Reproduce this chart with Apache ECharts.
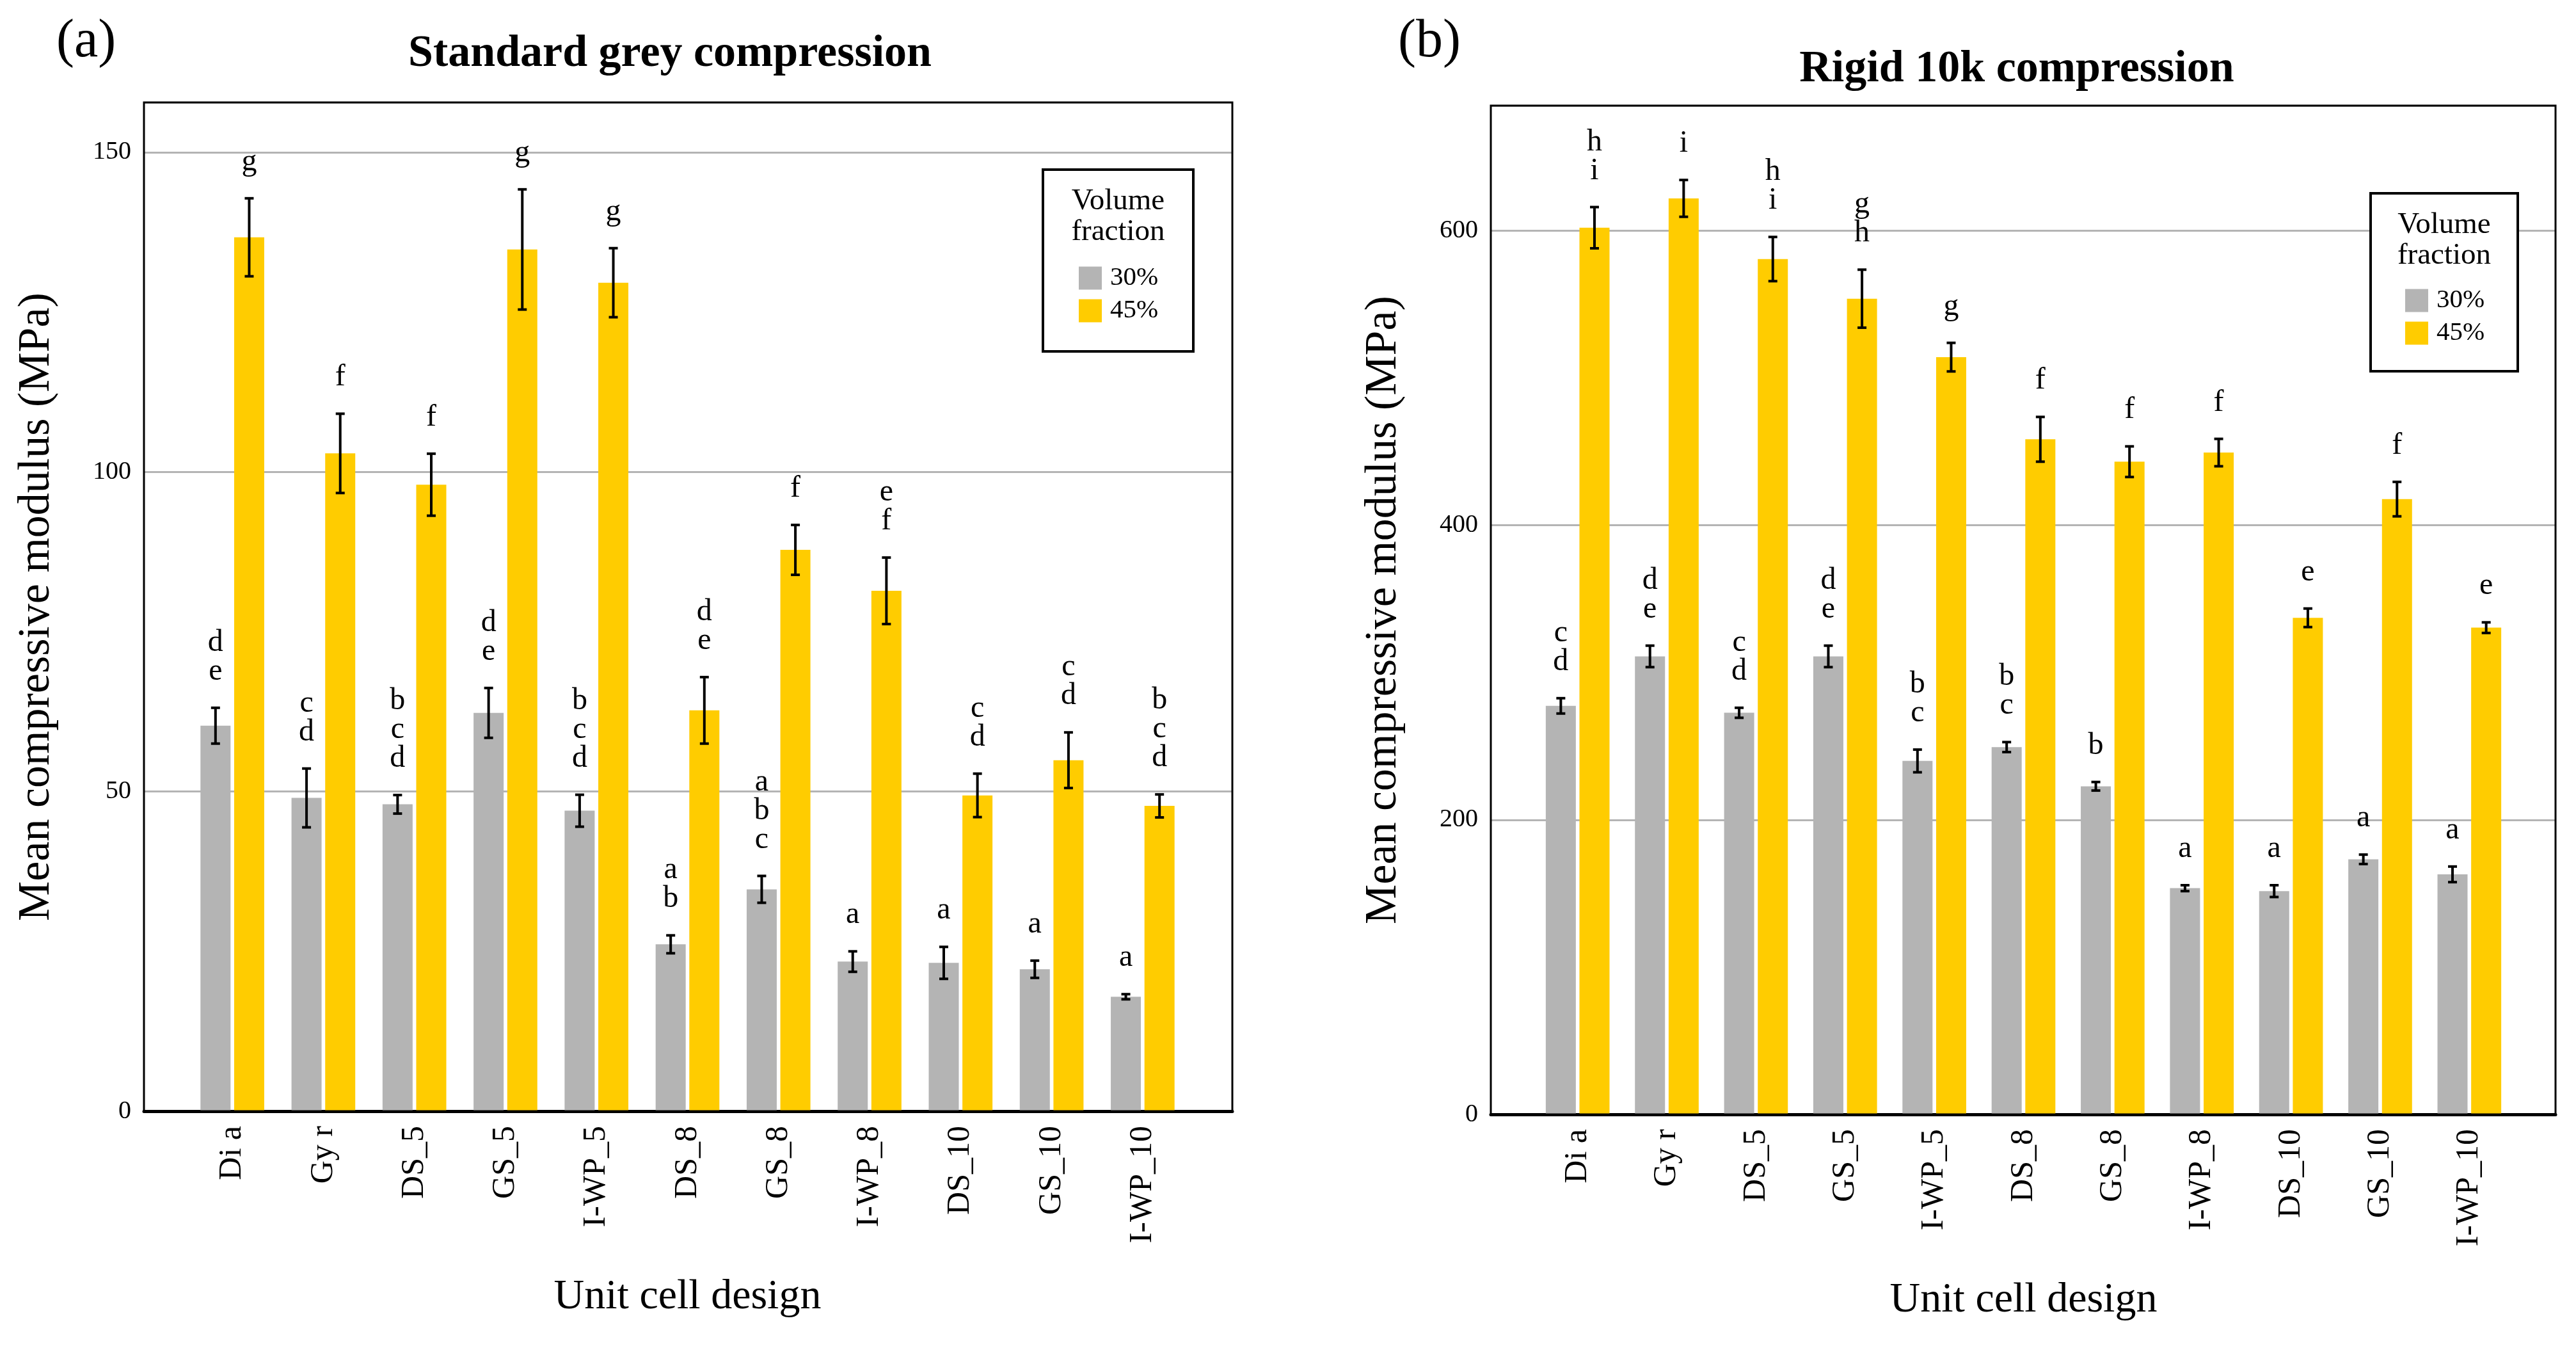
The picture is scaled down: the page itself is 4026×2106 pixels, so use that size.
<!DOCTYPE html>
<html>
<head>
<meta charset="utf-8">
<script src="https://cdn.jsdelivr.net/npm/echarts@6/dist/echarts.min.js"></script>
<style>
  html, body { margin: 0; padding: 0; background: #fff; }
  #chart { width: 4026px; height: 2106px; }
</style>
</head>
<body>
<div id="chart"></div>
<script>
// 数据
const categories = ['Di a', 'Gy r', 'DS_5', 'GS_5', 'I-WP_5', 'DS_8', 'GS_8', 'I-WP_8', 'DS_10', 'GS_10', 'I-WP_10'];
const seriesNames = ['30%', '45%'];

// (a) Standard grey
const greyA = [60.3, 49.0, 48.0, 62.3, 47.0, 26.1, 34.7, 23.4, 23.2, 22.2, 17.9];
const greyAErr = [2.8, 4.6, 1.45, 3.9, 2.5, 1.4, 2.1, 1.6, 2.5, 1.35, 0.4];
const yellowA = [136.7, 102.9, 98.0, 134.8, 129.6, 62.7, 87.8, 81.4, 49.4, 54.9, 47.75];
const yellowAErr = [6.1, 6.2, 4.85, 9.4, 5.4, 5.2, 3.9, 5.2, 3.4, 4.35, 1.8];
const greyALetters = ['d\ne', 'c\nd', 'b\nc\nd', 'd\ne', 'b\nc\nd', 'a\nb', 'a\nb\nc', 'a', 'a', 'a', 'a'];
const yellowALetters = ['g', 'f', 'f', 'g', 'g', 'd\ne', 'f', 'e\nf', 'c\nd', 'c\nd', 'b\nc\nd'];

// (b) Rigid 10k
const greyB = [277.4, 311.0, 272.7, 311.0, 240.0, 249.4, 222.8, 153.6, 151.6, 173.2, 163.0];
const greyBErr = [5.2, 7.3, 3.4, 7.3, 7.7, 3.4, 2.9, 2.0, 4.0, 3.2, 5.3];
const yellowB = [602.1, 622.0, 580.8, 553.9, 514.2, 458.4, 443.2, 449.4, 337.2, 417.8, 330.5];
const yellowBErr = [14.0, 12.5, 15.0, 19.7, 9.7, 15.2, 10.4, 9.3, 6.3, 11.7, 3.6];
const greyBLetters = ['c\nd', 'd\ne', 'c\nd', 'd\ne', 'b\nc', 'b\nc', 'b', 'a', 'a', 'a', 'a'];
const yellowBLetters = ['h\ni', 'i', 'h\ni', 'g\nh', 'g', 'f', 'f', 'f', 'e', 'f', 'e'];

const yTicksA = { max: 157.8, interval: 50 };
const yTicksB = { max: 685, interval: 200 };

const GREY = '#b4b4b4';
const YELLOW = '#ffcc00';
const FONT = 'Liberation Serif';

// 布局（像素）
const frameA = { left: 225, top: 160, width: 1701, height: 1576 };
const innerA = { left: 292, top: 160, width: 1565, height: 1576 };
const frameB = { left: 2330, top: 165, width: 1664, height: 1576 };
const innerB = { left: 2396, top: 165, width: 1533, height: 1576 };

const BAR_W = 47;
const BAR_GAP = 0.12;
const HALF = (BAR_W + BAR_W * BAR_GAP) / 2;

const chart = echarts.init(document.getElementById('chart'));

function outerX(grid) {
    return {
        type: 'value', gridIndex: grid, min: 0, max: 1,
        axisLine: { show: true, onZero: false, lineStyle: { color: '#000', width: 5 } },
        axisTick: { show: false }, axisLabel: { show: false }, splitLine: { show: false }
    };
}

function outerY(grid, ticks) {
    return {
        type: 'value', gridIndex: grid, min: 0, max: ticks.max, interval: ticks.interval,
        name: 'Mean compressive modulus (MPa)', nameLocation: 'middle', nameRotate: 90, nameGap: 132,
        nameTextStyle: { fontFamily: FONT, fontSize: 70, color: '#000' },
        axisLine: { show: false }, axisTick: { show: false },
        axisLabel: { fontFamily: FONT, fontSize: 40, color: '#000', margin: 20, showMaxLabel: false },
        splitLine: { show: true, lineStyle: { color: GREY, width: 3 } }
    };
}

function innerX(grid) {
    return {
        type: 'category', gridIndex: grid, data: categories,
        name: 'Unit cell design', nameLocation: 'middle', nameGap: 258,
        nameTextStyle: { fontFamily: FONT, fontSize: 66, color: '#000' },
        axisLine: { show: false }, axisTick: { show: false },
        axisLabel: { rotate: 90, interval: 0, fontFamily: FONT, fontSize: 50, color: '#000', margin: 23 }
    };
}

function innerY(grid, ticks) {
    return { type: 'value', gridIndex: grid, min: 0, max: ticks.max, interval: ticks.interval, show: false, splitLine: { show: false } };
}

function barSeries(name, axis, values, color) {
    return {
        name: name, type: 'bar', xAxisIndex: axis, yAxisIndex: axis,
        data: values, barWidth: BAR_W, barGap: (BAR_GAP * 100) + '%',
        itemStyle: { color: color }, z: 2
    };
}

// 误差线 + 字母标注
function errSeries(axis, values, errs, letters, offset) {
    return {
        type: 'custom', xAxisIndex: axis, yAxisIndex: axis, clip: false, z: 5,
        data: values.map((v, i) => [i, v, errs[i]]),
        renderItem: (params, api) => {
            const i = api.value(0), v = api.value(1), e = api.value(2);
            const top = api.coord([i, v + e]);
            const bot = api.coord([i, v - e]);
            const x = top[0] + offset;
            const st = { stroke: '#000', lineWidth: 4 };
            return {
                type: 'group',
                children: [
                    { type: 'line', shape: { x1: x, y1: top[1], x2: x, y2: bot[1] }, style: st },
                    { type: 'line', shape: { x1: x - 7, y1: top[1], x2: x + 7, y2: top[1] }, style: st },
                    { type: 'line', shape: { x1: x - 7, y1: bot[1], x2: x + 7, y2: bot[1] }, style: st },
                    {
                        type: 'text',
                        style: {
                            text: letters[params.dataIndex], x: x, y: top[1] - 34,
                            align: 'center', verticalAlign: 'bottom',
                            fontFamily: FONT, fontSize: 48, lineHeight: 45, fill: '#000'
                        }
                    }
                ]
            };
        }
    };
}

function legendBox(x, y, w, h) {
    return [
        { type: 'rect', shape: { x: x, y: y, width: w, height: h }, style: { fill: '#fff', stroke: '#000', lineWidth: 4 }, z: 10 },
        {
            type: 'text', z: 11,
            style: {
                text: 'Volume\nfraction', x: x + w / 2, y: y + 26, align: 'center', verticalAlign: 'top',
                fontFamily: FONT, fontSize: 47, lineHeight: 48, fill: '#000'
            }
        }
    ];
}

function frameRect(f) {
    return { type: 'rect', shape: { x: f.left, y: f.top, width: f.width, height: f.height }, style: { fill: 'none', stroke: '#000', lineWidth: 3 }, z: 20, silent: true };
}

function legendCfg(left, top) {
    return {
        data: seriesNames, orient: 'vertical', left: left, top: top, icon: 'rect',
        itemWidth: 36, itemHeight: 36, itemGap: 10, padding: 0, z: 12,
        textStyle: { fontFamily: FONT, fontSize: 41, color: '#000', padding: [0, 0, 0, 8] }
    };
}

const option = {
    backgroundColor: '#fff',
    animation: false,
    textStyle: { fontFamily: FONT },
    title: [
        { text: '(a)', left: 83, top: 19, textStyle: { fontFamily: FONT, fontSize: 84, fontWeight: 'normal', color: '#000', lineHeight: 84 } },
        { text: 'Standard grey compression', left: 1042, top: 45, textAlign: 'center', textStyle: { fontFamily: FONT, fontSize: 70, fontWeight: 'bold', color: '#000', lineHeight: 70 } },
        { text: '(b)', left: 2180, top: 19, textStyle: { fontFamily: FONT, fontSize: 84, fontWeight: 'normal', color: '#000', lineHeight: 84 } },
        { text: 'Rigid 10k compression', left: 3147, top: 69, textAlign: 'center', textStyle: { fontFamily: FONT, fontSize: 70, fontWeight: 'bold', color: '#000', lineHeight: 70 } }
    ],
    legend: [legendCfg(1686, 414), legendCfg(3759, 449)],
    grid: [frameA, innerA, frameB, innerB].map(g => Object.assign({ containLabel: false }, g)),
    xAxis: [outerX(0), innerX(1), outerX(2), innerX(3)],
    yAxis: [outerY(0, yTicksA), innerY(1, yTicksA), outerY(2, yTicksB), innerY(3, yTicksB)],
    series: [
        barSeries(seriesNames[0], 1, greyA, GREY),
        barSeries(seriesNames[1], 1, yellowA, YELLOW),
        barSeries(seriesNames[0], 3, greyB, GREY),
        barSeries(seriesNames[1], 3, yellowB, YELLOW),
        errSeries(1, greyA, greyAErr, greyALetters, -HALF),
        errSeries(1, yellowA, yellowAErr, yellowALetters, HALF),
        errSeries(3, greyB, greyBErr, greyBLetters, -HALF),
        errSeries(3, yellowB, yellowBErr, yellowBLetters, HALF)
    ],
    graphic: [
        frameRect(frameA), frameRect(frameB),
        ...legendBox(1630, 265, 235, 284),
        ...legendBox(3705, 302, 230, 278)
    ]
};

chart.setOption(option);
</script>
</body>
</html>
